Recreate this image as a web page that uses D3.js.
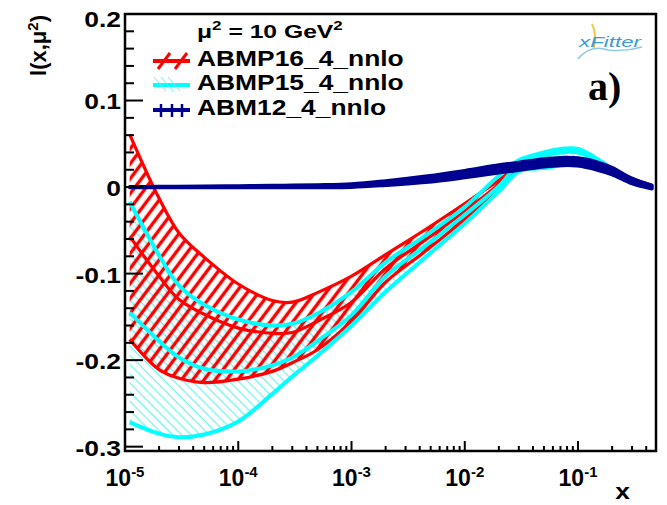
<!DOCTYPE html>
<html>
<head>
<meta charset="utf-8">
<script src="https://cdn.jsdelivr.net/npm/d3@7"></script>
<style>
body { margin: 0; background: #fff; }
text { font-family: "Liberation Sans", Arial, sans-serif; font-weight: bold; }
</style>
</head>
<body>
<script>
// values at these x points
var xs = [1.1e-5, 2e-5, 3e-5, 5e-5, 1e-4, 2e-4, 3e-4, 5e-4, 1e-3, 2e-3, 4.5e-3,
          1e-2, 2e-2, 3e-2, 5e-2, 7e-2, 0.1, 0.15, 0.2, 0.3, 0.45];

var abmp16_up  = [0.061, -0.013, -0.053, -0.081, -0.112, -0.131, -0.133, -0.122, -0.103, -0.078, -0.049,
                  -0.019, 0.008, 0.024, 0.029, 0.031, 0.031, 0.026, 0.020, 0.010, 0.002];
var abmp16_cen = [-0.057, -0.103, -0.130, -0.147, -0.163, -0.169, -0.168, -0.155, -0.133, -0.094, -0.061,
                  -0.028, 0.003, 0.022, 0.027, 0.029, 0.0285, 0.024, 0.018, 0.008, 0.001];
var abmp16_lo  = [-0.176, -0.211, -0.221, -0.226, -0.222, -0.213, -0.203, -0.188, -0.155, -0.110, -0.074,
                  -0.037, -0.001, 0.020, 0.024, 0.026, 0.0255, 0.021, 0.015, 0.005, -0.001];

var abmp15_up  = [-0.017, -0.079, -0.114, -0.136, -0.153, -0.160, -0.158, -0.146, -0.121, -0.087, -0.056,
                  -0.023, 0.013, 0.031, 0.040, 0.044, 0.044, 0.032, 0.021, 0.006, 0.0];
var abmp15_cen = [-0.145, -0.178, -0.197, -0.210, -0.213, -0.206, -0.197, -0.178, -0.148, -0.103, -0.068,
                  -0.032, 0.001, 0.026, 0.036, 0.040, 0.040, 0.030, 0.019, 0.006, 0.0];
var abmp15_lo  = [-0.272, -0.285, -0.289, -0.286, -0.271, -0.239, -0.219, -0.195, -0.160, -0.121, -0.081,
                  -0.042, -0.005, 0.018, 0.022, 0.025, 0.025, 0.021, 0.015, 0.005, 0.0];

var abm12_up   = [0.0004, 0.0006, 0.0008, 0.001, 0.0013, 0.0017, 0.002, 0.0024, 0.0035, 0.0071, 0.0125,
                  0.019, 0.0255, 0.0285, 0.0325, 0.034, 0.0335, 0.0285, 0.0225, 0.010, 0.002];
var abm12_lo   = [-0.0004, -0.0004, -0.0004, -0.0004, -0.0004, -0.0004, -0.0004, -0.0004, -0.0001, 0.0021, 0.0055,
                  0.011, 0.0165, 0.0195, 0.0235, 0.025, 0.0245, 0.0195, 0.0145, 0.004, -0.002];

var yTicks = [-0.3, -0.2, -0.1, 0, 0.1, 0.2];
var yTickLabels = ["-0.3", "-0.2", "-0.1", "0", "0.1", "0.2"];
var xTicks = [1e-5, 1e-4, 1e-3, 1e-2, 1e-1];
var xTickExp = ["-5", "-4", "-3", "-2", "-1"];
var legendNames = ["ABMP16_4_nnlo", "ABMP15_4_nnlo", "ABM12_4_nnlo"];

var W = 667, H = 505;
var frame = {left: 125, right: 656, top: 14, bottom: 451};
var SX = 1.2;   // the text in the picture is stretched sideways

var svg = d3.select("body").append("svg")
    .attr("width", W).attr("height", H);

var x = d3.scaleLog().domain([1e-5, 0.488]).range([frame.left, frame.right]);
var y = d3.scaleLinear().domain([-0.305, 0.2]).range([frame.bottom, frame.top]);

// hatch patterns
var defs = svg.append("defs");
defs.append("pattern").attr("id", "hatchRed")
    .attr("patternUnits", "userSpaceOnUse").attr("width", 9).attr("height", 9)
    .attr("patternTransform", "rotate(37)")
  .append("line").attr("x1", 4.5).attr("y1", 0).attr("x2", 4.5).attr("y2", 9)
    .attr("stroke", "#ff0000").attr("stroke-width", 3.4);
defs.append("pattern").attr("id", "hatchCyan")
    .attr("patternUnits", "userSpaceOnUse").attr("width", 6.5).attr("height", 6.5)
    .attr("patternTransform", "rotate(-45)")
  .append("line").attr("x1", 3).attr("y1", 0).attr("x2", 3).attr("y2", 6.5)
    .attr("stroke", "#50eeee").attr("stroke-width", 1);
defs.append("clipPath").attr("id", "clipFrame")
  .append("rect").attr("x", frame.left).attr("y", frame.top)
    .attr("width", frame.right - frame.left).attr("height", frame.bottom - frame.top);

var curve = d3.curveCatmullRom.alpha(0.5);
function band(lo, up) {
    return d3.area().curve(curve)
        .x(function(d, i) { return x(xs[i]); })
        .y0(function(d, i) { return y(lo[i]); })
        .y1(function(d, i) { return y(up[i]); })(xs);
}
function line(vals) {
    return d3.line().curve(curve)
        .x(function(d, i) { return x(xs[i]); })
        .y(function(d) { return y(d); })(vals);
}

var plot = svg.append("g").attr("clip-path", "url(#clipFrame)");

// bands
plot.append("path").attr("d", band(abmp15_lo, abmp15_up)).attr("fill", "url(#hatchCyan)");
plot.append("path").attr("d", band(abmp16_lo, abmp16_up)).attr("fill", "url(#hatchRed)");

[abmp16_up, abmp16_cen, abmp16_lo].forEach(function(v) {
    plot.append("path").attr("d", line(v)).attr("fill", "none")
        .attr("stroke", "#ff0000").attr("stroke-width", 3.2);
});
[abmp15_up, abmp15_cen, abmp15_lo].forEach(function(v) {
    plot.append("path").attr("d", line(v)).attr("fill", "none")
        .attr("stroke", "#00ffff").attr("stroke-width", 4);
});

plot.append("path").attr("d", band(abm12_lo, abm12_up))
    .attr("fill", "#000090").attr("stroke", "#000090").attr("stroke-width", 3.5)
    .attr("stroke-linejoin", "round");

// frame
svg.append("rect").attr("x", frame.left).attr("y", frame.top)
    .attr("width", frame.right - frame.left).attr("height", frame.bottom - frame.top)
    .attr("fill", "none").attr("stroke", "#000").attr("stroke-width", 2.5);

// y ticks (ROOT style, inside the frame)
var yMinor = d3.range(-0.3, 0.2001, 0.02);
svg.append("g").selectAll("line").data(yMinor).enter().append("line")
    .attr("x1", frame.left).attr("x2", function(d) {
        var major = Math.abs(Math.round(d * 10) - d * 10) < 1e-6;
        return frame.left + (major ? 18 : 9);
    })
    .attr("y1", function(d) { return y(d); }).attr("y2", function(d) { return y(d); })
    .attr("stroke", "#000").attr("stroke-width", 2);
svg.append("g").selectAll("text").data(yTicks).enter().append("text")
    .attr("transform", function(d) {
        return "translate(121," + Math.max(y(d) + 1, 19) + ") scale(" + SX + ",1)";
    })
    .attr("dy", "0.36em").attr("text-anchor", "end")
    .style("font-size", "22px")
    .text(function(d, i) { return yTickLabels[i]; });

// x ticks
var xMinor = [];
for (var e = -5; e <= -1; e++) {
    for (var k = 1; k <= 9; k++) {
        var v = k * Math.pow(10, e);
        if (v <= 0.488) xMinor.push({v: v, major: k === 1});
    }
}
svg.append("g").selectAll("line").data(xMinor).enter().append("line")
    .attr("x1", function(d) { return x(d.v); }).attr("x2", function(d) { return x(d.v); })
    .attr("y1", frame.bottom).attr("y2", function(d) { return frame.bottom - (d.major ? 10 : 5); })
    .attr("stroke", "#000").attr("stroke-width", 2);
var xl = svg.append("g").selectAll("text").data(xTicks).enter().append("text")
    .attr("x", function(d) { return x(d); }).attr("y", 486)
    .attr("text-anchor", "middle").style("font-size", "23px");
xl.append("tspan").text("10");
xl.append("tspan").attr("dy", -9).style("font-size", "15px")
    .text(function(d, i) { return xTickExp[i]; });

// axis titles
svg.append("text").attr("transform", "translate(630,499) scale(" + SX + ",1)")
    .attr("text-anchor", "end").style("font-size", "22px").text("x");
var yt = svg.append("text").attr("transform", "translate(46,15) rotate(-90)")
    .attr("text-anchor", "end").style("font-size", "22px");
yt.append("tspan").text("l(x,\u03bc");
yt.append("tspan").attr("dy", -8).style("font-size", "15px").text("2");
yt.append("tspan").attr("dy", 8).text(")");

// legend
var mu = svg.append("text").attr("transform", "translate(197,38) scale(1.3,1)")
    .style("font-size", "19px");
mu.append("tspan").text("\u03bc");
mu.append("tspan").attr("dy", -8).style("font-size", "13px").text("2");
mu.append("tspan").attr("dy", 8).text(" = 10 GeV");
mu.append("tspan").attr("dy", -8).style("font-size", "13px").text("2");

var legY = [66, 90, 115];
svg.append("g").selectAll("text").data(legendNames).enter().append("text")
    .attr("transform", function(d, i) { return "translate(197," + legY[i] + ") scale(" + SX + ",1)"; })
    .style("font-size", "22px").text(function(d) { return d; });

var lg = svg.append("g");
// ABMP16 symbol
lg.append("line").attr("x1", 153).attr("x2", 190).attr("y1", 61).attr("y2", 61)
    .attr("stroke", "#ff0000").attr("stroke-width", 4);
[164, 181].forEach(function(cx) {
    lg.append("line").attr("x1", cx - 6).attr("y1", 69).attr("x2", cx + 6).attr("y2", 53)
        .attr("stroke", "#ff0000").attr("stroke-width", 3);
});
// ABMP15 symbol
lg.append("line").attr("x1", 153).attr("x2", 190).attr("y1", 85).attr("y2", 85)
    .attr("stroke", "#00ffff").attr("stroke-width", 4);
[160, 167, 174].forEach(function(cx) {
    lg.append("line").attr("x1", cx - 6).attr("y1", 77).attr("x2", cx + 6).attr("y2", 91)
        .attr("stroke", "#60f0f0").attr("stroke-width", 1);
});
// ABM12 symbol
lg.append("line").attr("x1", 153).attr("x2", 190).attr("y1", 110).attr("y2", 110)
    .attr("stroke", "#000090").attr("stroke-width", 4);
[161, 172, 182].forEach(function(cx) {
    lg.append("line").attr("x1", cx).attr("x2", cx).attr("y1", 104).attr("y2", 117)
        .attr("stroke", "#000090").attr("stroke-width", 2.5);
});

// xFitter logo
var logo = svg.append("g");
logo.append("path").attr("d", "M592,24 Q597,34 594,48").attr("fill", "none")
    .attr("stroke", "#f2c84b").attr("stroke-width", 2);
logo.append("path").attr("d", "M578,59 Q590,44 608,50 Q625,52 642,47").attr("fill", "none")
    .attr("stroke", "#8cc8ec").attr("stroke-width", 1.5);
logo.append("text").attr("x", 579).attr("y", 47)
    .attr("textLength", 62).attr("lengthAdjust", "spacingAndGlyphs")
    .style("font-size", "15px").style("font-style", "italic").style("font-weight", "normal")
    .attr("fill", "#3d9ad8").text("xFitter");

// panel label
svg.append("text").attr("x", 588).attr("y", 100)
    .style("font-family", "'Liberation Serif', 'DejaVu Serif', serif")
    .style("font-size", "40px").text("a)");
</script>
</body>
</html>
